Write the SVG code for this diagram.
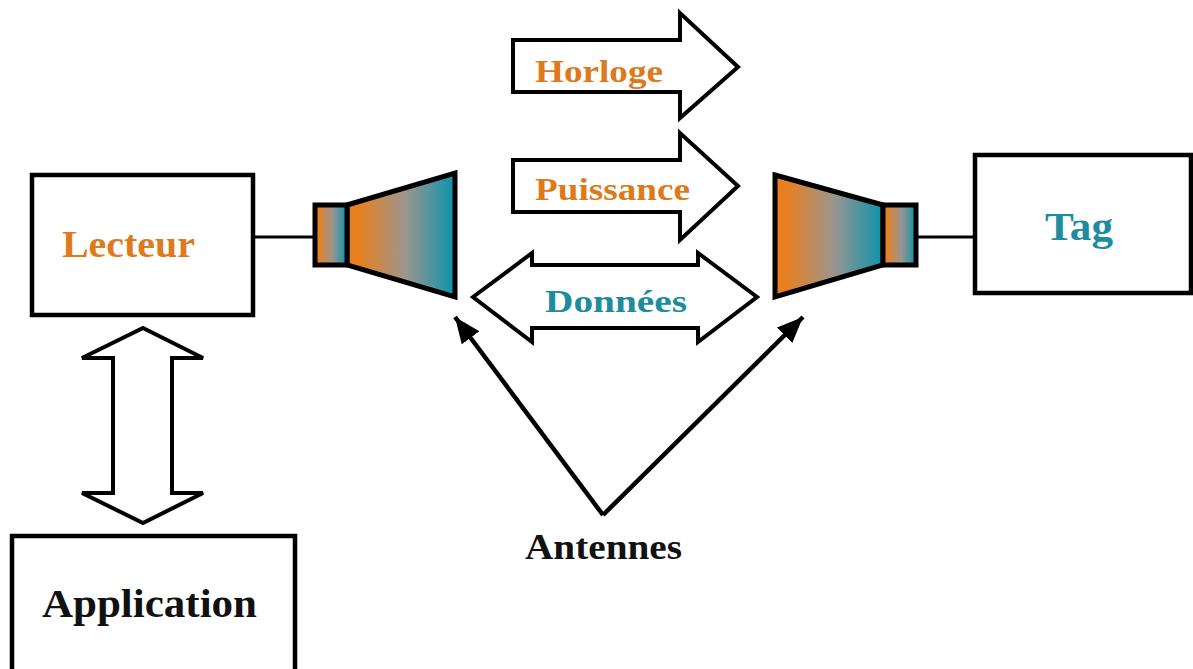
<svg xmlns="http://www.w3.org/2000/svg" width="1193" height="669" viewBox="0 0 1193 669">
<defs>
<linearGradient id="og" x1="0" y1="0" x2="1" y2="0">
<stop offset="0.1" stop-color="#E8801F"/>
<stop offset="0.55" stop-color="#9A9590"/>
<stop offset="0.95" stop-color="#1A93A8"/>
</linearGradient>
<marker id="ah" markerUnits="userSpaceOnUse" markerWidth="30" markerHeight="24" refX="26" refY="11" orient="auto">
<path d="M0,0 L26,11 L0,22 Z" fill="#000"/>
</marker>
<style>
.box{fill:#fff;stroke:#000;stroke-width:4.5}
.arr{fill:#fff;stroke:#000;stroke-width:4;stroke-linejoin:miter}
.ant{fill:url(#og);stroke:#000;stroke-width:5;stroke-linejoin:miter}
.wire{stroke:#000;stroke-width:3;fill:none}
.ptr{stroke:#000;stroke-width:4.5;fill:none}
.lbl{font-family:"Liberation Serif","Times New Roman",serif;font-weight:bold;text-anchor:start}
.or{fill:#DE7A1C}
.te{fill:#1E8C9E}
.bk{fill:#111}
</style>
</defs>
<rect width="1193" height="669" fill="#fff"/>
<g id="lecteur">
<rect class="box" x="32" y="175" width="221" height="140"/>
<text class="lbl or" x="62" y="257" font-size="37" textLength="133" lengthAdjust="spacingAndGlyphs">Lecteur</text>
</g>
<g id="application">
<rect class="box" x="12" y="536" width="283" height="150"/>
<text class="lbl bk" x="42" y="617" font-size="40" textLength="215" lengthAdjust="spacingAndGlyphs">Application</text>
</g>
<g id="tag">
<rect class="box" x="975" y="155" width="216" height="138"/>
<text class="lbl te" x="1045" y="240" font-size="40" textLength="68" lengthAdjust="spacingAndGlyphs">Tag</text>
</g>
<g id="antenne-lecteur">
<polygon class="ant" points="347,205 455,173 455,297 347,265"/>
<rect class="ant" x="315" y="205" width="32" height="60"/>
</g>
<g id="antenne-tag">
<polygon class="ant" points="775,175 883,205 883,265 775,297"/>
<rect class="ant" x="883" y="205" width="33" height="60"/>
</g>
<g id="horloge">
<polygon class="arr" points="513,40 680,40 680,13 738,67 680,118 680,92 513,92"/>
<text class="lbl or" x="535" y="82" font-size="32" textLength="128" lengthAdjust="spacingAndGlyphs">Horloge</text>
</g>
<g id="puissance">
<polygon class="arr" points="513,160 680,160 680,133 738,186 680,240 680,212 513,212"/>
<text class="lbl or" x="535" y="200" font-size="32" textLength="155" lengthAdjust="spacingAndGlyphs">Puissance</text>
</g>
<g id="donnees">
<polygon class="arr" points="473,297 532,253 532,265 698,265 698,253 757,297 698,342 698,328 532,328 532,342"/>
<text class="lbl te" x="545" y="312" font-size="32" textLength="142" lengthAdjust="spacingAndGlyphs">Données</text>
</g>
<g id="antennes-label">
<text class="lbl bk" x="525" y="559" font-size="36" textLength="157" lengthAdjust="spacingAndGlyphs">Antennes</text>
</g>
<g id="connectors">
<line class="wire" x1="253" y1="237" x2="315" y2="237"/>
<line class="wire" x1="916" y1="237" x2="975" y2="237"/>
<polygon class="arr" points="143,328 203,358 172,358 172,493 203,493 143,523 82,493 113,493 113,358 82,358"/>
<path class="ptr" d="M603,515 L455,317" marker-end="url(#ah)"/>
<path class="ptr" d="M603,515 L803,317" marker-end="url(#ah)"/>
</g>
</svg>
